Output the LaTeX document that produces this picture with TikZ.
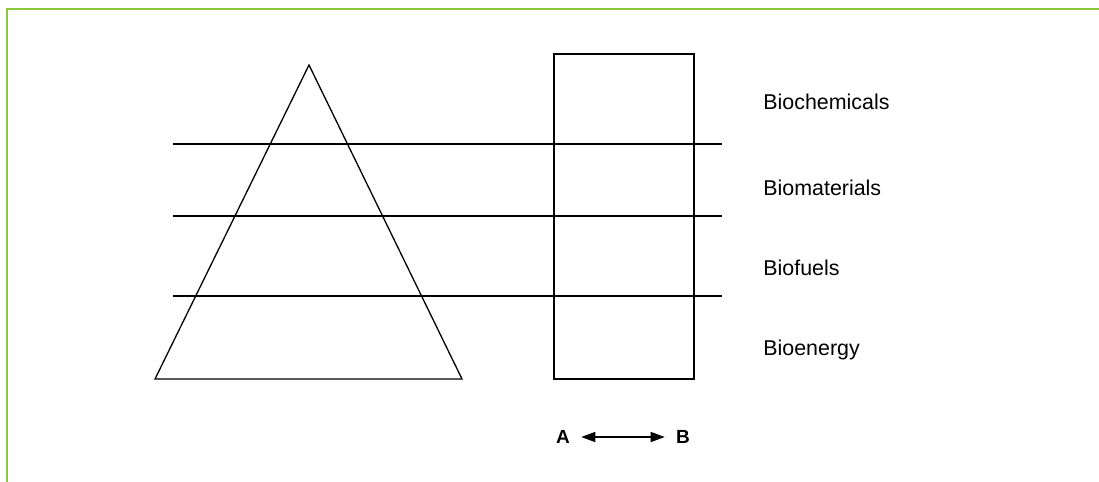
\documentclass[tikz,border=0pt]{standalone}
\usepackage{fontspec}
\setmainfont{Liberation Sans}
\usepackage{xcolor}
\usetikzlibrary{arrows.meta}

\definecolor{framegreen}{HTML}{8DC63F}

\begin{document}
\begin{tikzpicture}[x=0.5pt, y=-0.5pt,
    levelline/.style={line width=0.65pt, black},
    levellabel/.style={anchor=base west, inner sep=0pt, font=\fontsize{10.7}{12}\selectfont},
    endlabel/.style={inner sep=5.5pt, font=\fontsize{9.5}{10}\selectfont\bfseries}]
    \useasboundingbox (0,0) rectangle (1099,482);
    % frame
    \draw[framegreen, line width=1pt] (1099,9) -- (7,9) -- (7,482);
    % pyramid and column
    \draw[levelline, line join=miter] (155,379) -- (309,65) -- (462,379) -- cycle;
    \draw[levelline] (554,54) rectangle (694,379);
    % level lines
    \foreach \y in {144,216,296}
        \draw[levelline] (173,\y) -- (722,\y);
    % labels
    \node[levellabel] (biochem) at (763,109) {Biochemicals};
    \node[levellabel] (biomat) at (763,195.5) {Biomaterials};
    \node[levellabel] (biofuel) at (763,275.5) {Biofuels};
    \node[levellabel] (bioenergy) at (763,355.5) {Bioenergy};
    % A <-> B
    \node[endlabel] (a) at (563,437) {A};
    \node[endlabel] (b) at (683,437) {B};
    \draw[{Triangle[length=7pt,width=5pt]}-{Triangle[length=7pt,width=5pt]}, line width=0.65pt] (a) -- (b);
\end{tikzpicture}
\end{document}
